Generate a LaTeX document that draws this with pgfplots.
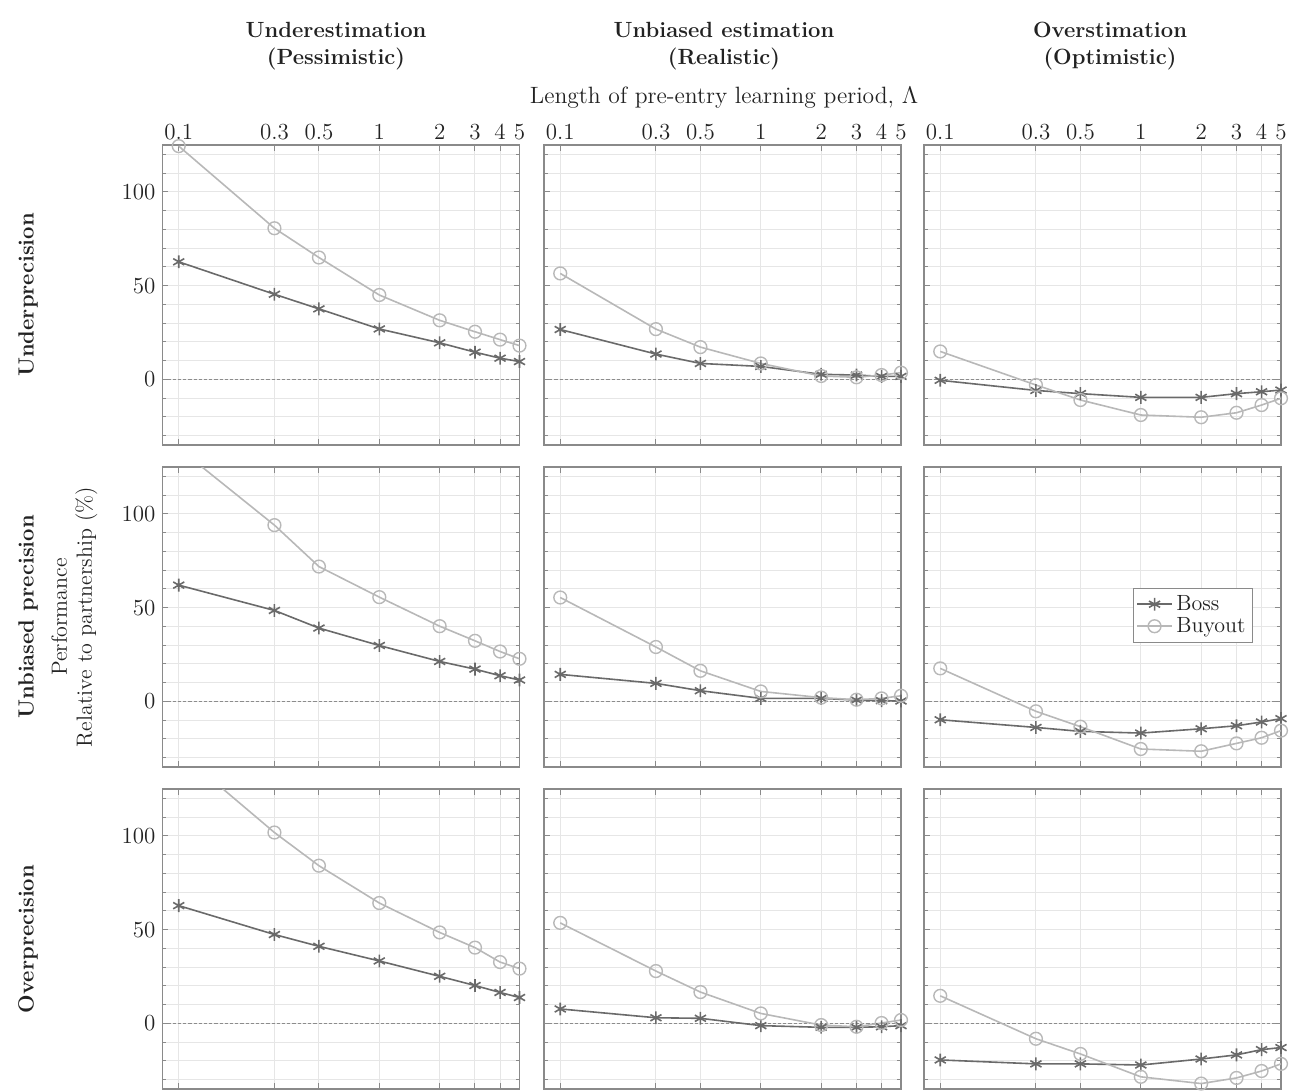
\documentclass[border=0pt]{standalone}
\usepackage{pgfplots}
\pgfplotsset{compat=1.18}
\definecolor{bosscol}{HTML}{6A6A6A}
\definecolor{buycol}{HTML}{B8B8B8}
\definecolor{framecol}{HTML}{8A8A8A}
\definecolor{gridcol}{HTML}{E6E6E6}
\definecolor{zerocol}{HTML}{8C8C8C}
\definecolor{txtcol}{HTML}{222222}
\pgfplotsset{
 every axis/.append style={
  xmode=log, width=178.5pt, height=150pt, scale only axis,
  xmin=0.083, xmax=5, ymin=-35, ymax=125,
  xtick={0.1,0.3,0.5,1,2,3,4,5},
  xminorticks=false,
  ytick={0,50,100},
  minor ytick={-30,-20,...,120},
  xmajorgrids, ymajorgrids, yminorgrids,
  major grid style={gridcol, line width=0.5pt},
  minor grid style={gridcol, line width=0.5pt},
  axis line style={framecol, line width=0.8pt},
  tick style={framecol, line width=0.5pt},
  major tick length=3pt, minor tick length=2pt,
  tick align=inside,
  tick label style={font=\fontsize{11.5}{13}\selectfont, text=txtcol},
  xticklabel style={yshift=-1pt},
  anchor=north west,
 },
 myboss/.style={bosscol, line width=0.8pt, mark=asterisk, mark size=3.2pt, mark options={solid, line width=0.8pt}},
 mybuy/.style={buycol, line width=0.8pt, mark=o, mark size=3.2pt, mark options={solid, line width=0.7pt}},
}
\newcommand{\zeroline}{\draw[zerocol, dash pattern=on 1.6pt off 1pt, line width=0.6pt] (axis cs:0.083,0) -- (axis cs:5,0);}
\begin{document}
\begin{tikzpicture}
\useasboundingbox (0,0) rectangle (645.5pt,-546pt);
% column titles
\node[text=txtcol, font=\bfseries\fontsize{11}{13.5}\selectfont, align=center] at (168pt,-23.25pt) {Underestimation\\(Pessimistic)};
\node[text=txtcol, font=\bfseries\fontsize{11}{13.5}\selectfont, align=center] at (362pt,-23.25pt) {Unbiased estimation\\(Realistic)};
\node[text=txtcol, font=\bfseries\fontsize{11}{13.5}\selectfont, align=center] at (555pt,-23.25pt) {Overstimation\\(Optimistic)};
\node[text=txtcol, font=\fontsize{11.8}{13}\selectfont] at (362pt,-49pt) {Length of pre-entry learning period, $\Lambda$};
% row titles
\node[text=txtcol, rotate=90, font=\bfseries\fontsize{11}{13}\selectfont] at (14pt,-147.5pt) {Underprecision};
\node[text=txtcol, rotate=90, font=\bfseries\fontsize{11}{13}\selectfont] at (14pt,-308.5pt) {Unbiased precision};
\node[text=txtcol, rotate=90, font=\bfseries\fontsize{11}{13}\selectfont] at (14pt,-469.5pt) {Overprecision};
\node[text=txtcol, rotate=90, align=center, font=\fontsize{11}{12.5}\selectfont] at (37.25pt,-308.5pt) {Performance\\Relative to partnership (\%)};

% Row 1
\begin{axis}[at={(81.25pt,-72.5pt)}, xticklabels={0.1,0.3,0.5,1,2,3,4,5}, xticklabel pos=right, xtick pos=both, ytick pos=both, yticklabels={0,50,100}]
\zeroline
\addplot[myboss] coordinates {(0.1,62.7) (0.3,45.4) (0.5,37.6) (1,26.9) (2,19.5) (3,14.5) (4,11.3) (5,9.5)};
\addplot[mybuy] coordinates {(0.1,124.4) (0.3,80.6) (0.5,65.0) (1,45.0) (2,31.5) (3,25.4) (4,21.2) (5,18.0)};
\end{axis}
\begin{axis}[at={(272pt,-72.5pt)}, xticklabels={0.1,0.3,0.5,1,2,3,4,5}, xticklabel pos=right, xtick pos=both, ytick pos=both, yticklabels={}]
\zeroline
\addplot[myboss] coordinates {(0.1,26.6) (0.3,13.5) (0.5,8.5) (1,6.9) (2,2.7) (3,2.3) (4,1.6) (5,1.6)};
\addplot[mybuy] coordinates {(0.1,56.5) (0.3,26.8) (0.5,17.2) (1,8.5) (2,1.8) (3,1.1) (4,2.3) (5,3.6)};
\end{axis}
\begin{axis}[at={(462pt,-72.5pt)}, xticklabels={0.1,0.3,0.5,1,2,3,4,5}, xticklabel pos=right, xtick pos=both, ytick pos=both, yticklabels={}]
\zeroline
\addplot[myboss] coordinates {(0.1,-0.5) (0.3,-5.9) (0.5,-7.6) (1,-9.6) (2,-9.6) (3,-7.6) (4,-6.6) (5,-5.7)};
\addplot[mybuy] coordinates {(0.1,14.9) (0.3,-3.0) (0.5,-11.0) (1,-19.0) (2,-20.2) (3,-17.8) (4,-13.7) (5,-10.1)};
\end{axis}

% Row 2
\begin{axis}[at={(81.25pt,-233.5pt)}, xticklabels={}, xtick pos=both, ytick pos=both, yticklabels={0,50,100}]
\zeroline
\addplot[myboss] coordinates {(0.1,62.0) (0.3,48.5) (0.5,39.1) (1,29.8) (2,21.3) (3,17.2) (4,13.7) (5,11.4)};
\addplot[mybuy, mark indices={1,2,3,4,5,6,7}] coordinates {(0.1,135) (0.3,94.0) (0.5,71.9) (1,55.6) (2,40.1) (3,32.3) (4,26.6) (5,22.7)};
\end{axis}
\begin{axis}[at={(272pt,-233.5pt)}, xticklabels={}, xtick pos=both, ytick pos=both, yticklabels={}]
\zeroline
\addplot[myboss] coordinates {(0.1,14.4) (0.3,9.6) (0.5,5.7) (1,1.6) (2,1.6) (3,0.7) (4,0.4) (5,0.2)};
\addplot[mybuy] coordinates {(0.1,55.4) (0.3,29.0) (0.5,16.3) (1,5.3) (2,2.0) (3,0.9) (4,1.6) (5,3.0)};
\end{axis}
\begin{axis}[at={(462pt,-233.5pt)}, xticklabels={}, xtick pos=both, ytick pos=both, yticklabels={},
  legend style={at={(0.922,0.598)}, anchor=north east, draw=framecol, line width=0.6pt, font=\fontsize{11}{12}\selectfont, text=txtcol, inner sep=1.5pt, row sep=-2pt, cells={anchor=west}}]
\zeroline
\addplot[myboss] coordinates {(0.1,-9.8) (0.3,-13.9) (0.5,-16.0) (1,-16.9) (2,-14.6) (3,-13.0) (4,-11.0) (5,-9.2)};
\addlegendentry{Boss}
\addplot[mybuy] coordinates {(0.1,17.6) (0.3,-5.3) (0.5,-13.5) (1,-25.4) (2,-26.6) (3,-22.4) (4,-19.4) (5,-15.6)};
\addlegendentry{Buyout}
\end{axis}

% Row 3
\begin{axis}[at={(81.25pt,-394.5pt)}, xticklabels={}, xtick pos=both, ytick pos=both, yticklabels={0,50,100}]
\zeroline
\addplot[myboss] coordinates {(0.1,62.8) (0.3,47.4) (0.5,41.1) (1,33.3) (2,25.1) (3,20.2) (4,16.5) (5,13.8)};
\addplot[mybuy, mark indices={1,2,3,4,5,6,7}] coordinates {(0.1,145) (0.3,101.8) (0.5,84.1) (1,64.2) (2,48.5) (3,40.4) (4,32.7) (5,29.2)};
\end{axis}
\begin{axis}[at={(272pt,-394.5pt)}, xticklabels={}, xtick pos=both, ytick pos=both, yticklabels={}]
\zeroline
\addplot[myboss] coordinates {(0.1,7.7) (0.3,3.0) (0.5,2.7) (1,-1.2) (2,-2.1) (3,-2.1) (4,-1.8) (5,-1.2)};
\addplot[mybuy] coordinates {(0.1,53.6) (0.3,27.9) (0.5,16.7) (1,5.3) (2,-0.9) (3,-1.8) (4,0.2) (5,1.8)};
\end{axis}
\begin{axis}[at={(462pt,-394.5pt)}, xticklabels={}, xtick pos=both, ytick pos=both, yticklabels={}]
\zeroline
\addplot[myboss] coordinates {(0.1,-19.5) (0.3,-21.6) (0.5,-21.6) (1,-22.2) (2,-19.0) (3,-16.8) (4,-14.0) (5,-12.9)};
\addplot[mybuy] coordinates {(0.1,14.7) (0.3,-8.2) (0.5,-16.3) (1,-28.5) (2,-32.1) (3,-29.1) (4,-25.4) (5,-21.6)};
\end{axis}
\end{tikzpicture}
\end{document}
